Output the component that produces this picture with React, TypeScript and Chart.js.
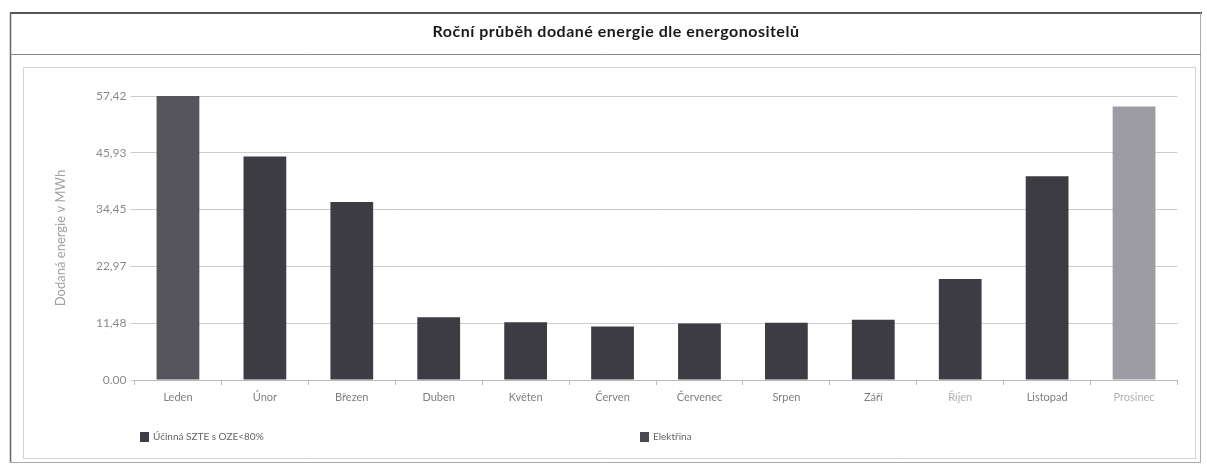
import React, { useEffect, useRef } from "react";
import { Chart, registerables } from "chart.js";

Chart.register(...registerables);

const titleText = "Roční průběh dodané energie dle energonositelů";
const yAxisTitle = "Dodaná energie v MWh";
const categories = ["Leden", "Únor", "Březen", "Duben", "Květen", "Červen", "Červenec", "Srpen", "Září", "Říjen", "Listopad", "Prosinec"];
const seriesNames = ["Účinná SZTE s OZE<80%", "Elektřina"];
const szteValues = [57.42, 45.2, 36.0, 12.7, 11.7, 10.8, 11.4, 11.6, 12.2, 20.4, 41.2, 55.3];
const elektrinaValues = [0, 0, 0, 0, 0, 0, 0, 0, 0, 0, 0, 0];
const yTickValues = [0, 11.48, 22.97, 34.45, 45.93, 57.42];
const yTickLabels = ["0.00", "11,48", "22,97", "34,45", "45,93", "57,42"];

const FONT = "Lato, 'Open Sans', sans-serif";

const framePlugin = {
  id: "frame",
  beforeDraw(chart: any) {
    const ctx = chart.ctx;
    ctx.save();
    ctx.fillStyle = "#ffffff";
    ctx.fillRect(0, 0, chart.width, chart.height);
    // outer frame
    ctx.strokeStyle = "#555";
    ctx.lineWidth = 2;
    ctx.beginPath();
    ctx.moveTo(10, 13);
    ctx.lineTo(1202, 13);
    ctx.stroke();
    ctx.lineWidth = 1.5;
    ctx.strokeStyle = "#666";
    ctx.beginPath();
    ctx.moveTo(10.5, 13);
    ctx.lineTo(10.5, 463);
    ctx.stroke();
    ctx.strokeStyle = "#aaa";
    ctx.lineWidth = 1;
    ctx.beginPath();
    ctx.moveTo(1200.5, 13);
    ctx.lineTo(1200.5, 463);
    ctx.moveTo(10, 462.5);
    ctx.lineTo(1201, 462.5);
    ctx.stroke();
    // separator under title
    ctx.strokeStyle = "#888";
    ctx.beginPath();
    ctx.moveTo(10, 54.5);
    ctx.lineTo(1201, 54.5);
    ctx.stroke();
    // inner box
    ctx.strokeStyle = "#d4d4d4";
    ctx.strokeRect(23.5, 67.5, 1172, 391);
    // title
    ctx.fillStyle = "#1a1a1a";
    ctx.font = "bold 16px " + FONT;
    try {
      (ctx as any).letterSpacing = "0.5px";
    } catch (e) {}
    ctx.textAlign = "center";
    ctx.textBaseline = "middle";
    ctx.fillText(titleText, 616, 32);
    try {
      (ctx as any).letterSpacing = "0px";
    } catch (e) {}
    ctx.restore();
  },
  afterDraw(chart: any) {
    const ctx = chart.ctx;
    ctx.save();
    const legendX = [140, 640];
    chart.data.datasets.forEach((ds: any, i: number) => {
      const x = legendX[i];
      const y = 437;
      ctx.fillStyle = i === 0 ? "#3e3e44" : "#4a4a50";
      ctx.fillRect(x, y - 5, 9, 10);
      ctx.fillStyle = "#666";
      ctx.font = "10px " + FONT;
      ctx.textAlign = "left";
      ctx.textBaseline = "middle";
      ctx.fillText(ds.label, x + 13, y);
    });
    ctx.restore();
  },
};

const barColors = categories.map((c, i) => (i === 0 ? "#55555b" : i === categories.length - 1 ? "#9c9ca2" : "#3c3c42"));
const labelColors = categories.map((c, i) => (i === 9 || i === 11 ? "#b0b0b0" : "#808080"));

export default function App() {
  const ref = useRef<HTMLCanvasElement>(null);
  useEffect(() => {
    if (!ref.current) return;
    const chart = new Chart(ref.current, {
      type: "bar",
      data: {
        labels: categories,
        datasets: [
          {
            label: seriesNames[0],
            data: szteValues,
            backgroundColor: barColors,
            borderWidth: 0,
            barPercentage: 0.6,
            categoryPercentage: 0.82,
          },
          {
            label: seriesNames[1],
            data: elektrinaValues,
            backgroundColor: "#4a4a50",
            borderWidth: 0,
            barPercentage: 0.6,
            categoryPercentage: 0.82,
          },
        ],
      },
      options: {
        responsive: false,
        animation: false,
        devicePixelRatio: 1,
        layout: { padding: { left: 34.5, right: 29.5, top: 96, bottom: 55 } },
        plugins: {
          legend: { display: false },
          title: { display: false },
          tooltip: { enabled: false },
        },
        scales: {
          x: {
            stacked: true,
            afterFit: (s: any) => {
              s.height = 30;
            },
            grid: {
              display: true,
              drawOnChartArea: false,
              drawTicks: true,
              tickLength: 5,
              color: "#bbb",
              offset: true,
            },
            border: { display: true, color: "#bbb" },
            ticks: {
              color: labelColors,
              font: { family: FONT, size: 11 },
              padding: 6,
              maxRotation: 0,
            },
          },
          y: {
            stacked: true,
            min: 0,
            max: 57.42,
            afterFit: (s: any) => {
              s.width = 100;
            },
            afterBuildTicks: (s: any) => {
              s.ticks = yTickValues.map((v) => ({ value: v }));
            },
            grid: {
              color: "#cccccc",
              drawTicks: true,
              tickLength: 4,
            },
            border: { display: false },
            ticks: {
              color: "#8a8a8a",
              font: { family: FONT, size: 12 },
              padding: 4,
              callback: (v: any) => {
                const idx = yTickValues.indexOf(Number(v));
                return idx >= 0 ? yTickLabels[idx] : "";
              },
            },
            title: {
              display: true,
              text: yAxisTitle,
              color: "#a0a0a0",
              font: { family: FONT, size: 13 },
              padding: { top: 19, bottom: 0 },
            },
          },
        },
      },
      plugins: [framePlugin],
    });
    return () => chart.destroy();
  }, []);
  return (
    <div style={{ position: "absolute", left: 0, top: 0, width: 1207, height: 465 }}>
      <canvas ref={ref} width={1207} height={465} style={{ width: 1207, height: 465, display: "block" }} />
    </div>
  );
}
